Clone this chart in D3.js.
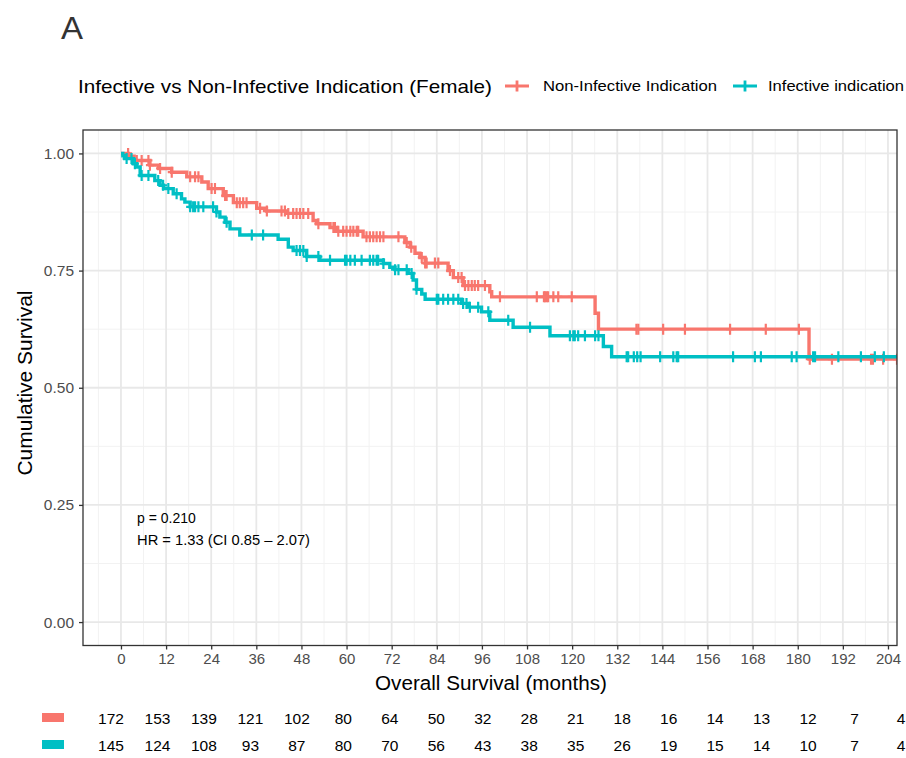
<!DOCTYPE html>
<html>
<head>
<meta charset="utf-8">
<script src="https://cdn.jsdelivr.net/npm/d3@7"></script>
<style>
body{margin:0;background:#fff}
svg{display:block;font-family:"Liberation Sans",Arial,sans-serif}
</style>
</head>
<body>
<svg id="chart" width="906" height="758"></svg>
<script>
// group names + colours (ggplot defaults)
var groupNames=["Non-Infective Indication","Infective indication"];
var groupColors=["#F8766D","#00BFC4"];

// KM steps [month, survival]
var nonInfSteps=[[0,1],[2,0.994],[3.5,0.985],[7.7,0.975],[10,0.968],[13.5,0.96],[17.5,0.95],[21.5,0.939],[23.2,0.925],[27.2,0.91],[29.9,0.895],[36.1,0.883],[38.7,0.877],[44,0.872],[51.1,0.857],[52,0.85],[55.6,0.842],[57.4,0.834],[64.4,0.822],[75.5,0.81],[76.9,0.80],[78.2,0.787],[79.5,0.778],[80.9,0.766],[87,0.75],[88.4,0.735],[91,0.718],[98.1,0.705],[98.6,0.694],[126.1,0.659],[127,0.625],[183,0.561],[206.5,0.561]];
var infSteps=[[0,1],[0.5,0.995],[1,0.989],[3.3,0.978],[4.2,0.971],[5.1,0.953],[9,0.942],[10.4,0.932],[11.3,0.925],[13.9,0.914],[16.1,0.903],[17,0.896],[18.4,0.886],[25.4,0.875],[26.3,0.864],[27.7,0.853],[29,0.839],[31.6,0.826],[41.8,0.817],[44.5,0.80],[45.8,0.793],[49.4,0.78],[52.9,0.772],[69.8,0.765],[71.5,0.757],[72.9,0.752],[76.4,0.744],[77.7,0.73],[78.6,0.71],[80,0.70],[80.9,0.689],[90.6,0.68],[92.4,0.672],[95.9,0.662],[98.1,0.644],[104.3,0.629],[114.1,0.611],[128.3,0.588],[130.5,0.566],[206.5,0.566]];

// censoring times (months)
var nonInfCensor=[1.9,4.2,5.5,7.3,7.7,10.4,13.5,18.4,19.7,20.6,24.1,25,27.7,28.1,30.8,31.6,32.5,33.4,37,38.8,42.7,43.6,44.5,45.8,46.7,47.6,48.5,49.8,52.5,56.5,56.9,57.8,59.1,60,61,61.8,62.7,63.1,65.3,66.2,67.1,68,68.9,69.8,73.8,76,77.2,80,80.9,81.3,83.5,84.4,87.5,89.7,90.6,91.5,92.4,93.3,94.1,95,96.8,100.8,110.6,112.5,112.8,113.2,113.6,115,116.3,119.9,137.1,137.6,144.2,150,162,171.5,180.3,183.2,189.1,199.5,200,202.7,206.4];
var infCensor=[1.5,2.8,3.7,5.5,7.3,9.9,11.2,12.6,14.8,18.4,19.2,19.7,20.6,21.9,24.5,25.4,28.1,34.8,37.8,46.7,47.6,48.5,49.4,52.5,55.6,59.6,60,61,62.2,64,66.2,67.1,68,68.4,69.8,72.9,73.8,76,77.3,78.6,84,84.4,85.7,87,88.4,89.7,91,91.9,92.8,95,97.7,103,108.8,119.4,120.3,120.7,121.6,123.4,126.1,127,134.5,134.9,136.4,137.3,138.2,143.4,146.9,147.8,148.2,162.8,168.6,170.2,178.4,179.7,184.1,184.6,190.8,196.8,200.5,202.9];

// axis breaks
var timeBreaks=[0,12,24,36,48,60,72,84,96,108,120,132,144,156,168,180,192,204];
var timeMinor=[-6,6,18,30,42,54,66,78,90,102,114,126,138,150,162,174,186,198];
var survBreaks=[0,0.25,0.5,0.75,1];
var survMinor=[0.125,0.375,0.625,0.875];

// numbers at risk
var nonInfRisk=[172,153,139,121,102,80,64,50,32,28,21,18,16,14,13,12,7,4];
var infRisk=[145,124,108,93,87,80,70,56,43,38,35,26,19,15,14,10,7,4];

var svg=d3.select("#chart");
var panel={left:83,right:897,top:130,bottom:645.5};

var x=d3.scaleLinear().domain([-10.1,206.4]).range([panel.left,panel.right]);
var y=d3.scaleLinear().domain([-0.05,1.05]).range([panel.bottom,panel.top]);
var xRisk=d3.scaleLinear().domain([0,204]).range([111,901]);

svg.append("defs").append("clipPath").attr("id","clipPanel")
	.append("rect").attr("x",panel.left).attr("y",panel.top)
	.attr("width",panel.right-panel.left).attr("height",panel.bottom-panel.top);

// grid
var grid=svg.append("g");
grid.selectAll(".minorX").data(timeMinor).enter().append("line")
	.attr("x1",function(d){return x(d);}).attr("x2",function(d){return x(d);})
	.attr("y1",panel.top).attr("y2",panel.bottom)
	.attr("stroke","#f2f2f2").attr("stroke-width",1);
grid.selectAll(".minorY").data(survMinor).enter().append("line")
	.attr("y1",function(d){return y(d);}).attr("y2",function(d){return y(d);})
	.attr("x1",panel.left).attr("x2",panel.right)
	.attr("stroke","#f2f2f2").attr("stroke-width",1);
grid.selectAll(".majorX").data(timeBreaks).enter().append("line")
	.attr("x1",function(d){return x(d);}).attr("x2",function(d){return x(d);})
	.attr("y1",panel.top).attr("y2",panel.bottom)
	.attr("stroke","#e8e8e8").attr("stroke-width",1.8);
grid.selectAll(".majorY").data(survBreaks).enter().append("line")
	.attr("y1",function(d){return y(d);}).attr("y2",function(d){return y(d);})
	.attr("x1",panel.left).attr("x2",panel.right)
	.attr("stroke","#e8e8e8").attr("stroke-width",1.8);

// curves
var curves=svg.append("g").attr("clip-path","url(#clipPanel)");
var stepLine=d3.line().x(function(d){return x(d[0]);}).y(function(d){return y(d[1]);}).curve(d3.curveStepAfter);

function survAt(steps,t){
	var s=steps[0][1];
	for(var i=0;i<steps.length;i++){ if(steps[i][0]<=t) s=steps[i][1]; }
	return s;
}
function drawGroup(steps,censor,color){
	curves.append("path").datum(steps)
		.attr("d",stepLine).attr("fill","none")
		.attr("stroke",color).attr("stroke-width",3.4);
	curves.selectAll(null).data(censor).enter().append("path")
		.attr("d",function(t){
			var cx=x(t),cy=y(survAt(steps,t));
			return "M"+cx+","+(cy-5.5)+"V"+(cy+5.5)+"M"+(cx-4)+","+cy+"H"+(cx+4);
		})
		.attr("stroke",color).attr("stroke-width",2.2);
}
drawGroup(nonInfSteps,nonInfCensor,groupColors[0]);
drawGroup(infSteps,infCensor,groupColors[1]);

// panel border
svg.append("rect").attr("x",panel.left).attr("y",panel.top)
	.attr("width",panel.right-panel.left).attr("height",panel.bottom-panel.top)
	.attr("fill","none").attr("stroke","#333").attr("stroke-width",1.3);

// axes
var xAxis=d3.axisBottom(x).tickValues(timeBreaks).tickSize(4).tickPadding(4);
var gx=svg.append("g").attr("transform","translate(0,"+panel.bottom+")").call(xAxis);
gx.select(".domain").remove();
gx.selectAll("line").attr("stroke","#333").attr("stroke-width",1.3);
gx.selectAll("text").attr("font-size",15).attr("fill","#4d4d4d");

var yAxis=d3.axisLeft(y).tickValues(survBreaks).tickFormat(d3.format(".2f")).tickSize(4).tickPadding(5);
var gy=svg.append("g").attr("transform","translate("+panel.left+",0)").call(yAxis);
gy.select(".domain").remove();
gy.selectAll("line").attr("stroke","#333").attr("stroke-width",1.3);
gy.selectAll("text").attr("font-size",15.5).attr("fill","#4d4d4d");

// axis titles
svg.append("text").attr("x",491).attr("y",690).attr("text-anchor","middle")
	.attr("font-size",20).attr("fill","#000")
	.attr("textLength",232).attr("lengthAdjust","spacingAndGlyphs")
	.text("Overall Survival (months)");
svg.append("text").attr("transform","translate(32,383) rotate(-90)").attr("text-anchor","middle")
	.attr("font-size",20).attr("fill","#000")
	.attr("textLength",185).attr("lengthAdjust","spacingAndGlyphs")
	.text("Cumulative Survival");

// annotation
svg.append("text").attr("x",137).attr("y",523).attr("font-size",14).attr("fill","#000").text("p = 0.210");
svg.append("text").attr("x",137).attr("y",545).attr("font-size",14).attr("fill","#000")
	.attr("textLength",173).attr("lengthAdjust","spacingAndGlyphs")
	.text("HR = 1.33 (CI 0.85 \u2013 2.07)");

// panel letter
svg.append("text").attr("x",61).attr("y",39).attr("font-size",32).attr("fill","#333")
	.attr("textLength",22).attr("lengthAdjust","spacingAndGlyphs").text("A");

// legend
var leg=svg.append("g");
leg.append("text").attr("x",78).attr("y",92.5).attr("font-size",19).attr("fill","#000")
	.attr("textLength",414).attr("lengthAdjust","spacingAndGlyphs")
	.text("Infective vs Non-Infective Indication (Female)");
var legKeys=[{cx:517,tx:543,w:174},{cx:745,tx:768,w:136}];
legKeys.forEach(function(k,i){
	leg.append("path").attr("d","M"+(k.cx-12)+",86H"+(k.cx+12)+"M"+k.cx+",80.5V91.5")
		.attr("stroke",groupColors[i]).attr("stroke-width",2.8);
	leg.append("text").attr("x",k.tx).attr("y",91).attr("font-size",15).attr("fill","#000")
		.attr("textLength",k.w).attr("lengthAdjust","spacingAndGlyphs").text(groupNames[i]);
});

// risk table
var riskRows=[nonInfRisk,infRisk];
var rowY=[718,745];
riskRows.forEach(function(row,i){
	svg.append("rect").attr("x",42).attr("y",rowY[i]-5).attr("width",22).attr("height",9).attr("fill",groupColors[i]);
	svg.selectAll(null).data(row).enter().append("text")
		.attr("x",function(d,j){return xRisk(timeBreaks[j]);})
		.attr("y",rowY[i]+6).attr("text-anchor","middle")
		.attr("font-size",15.5).attr("fill","#000").text(function(d){return d;});
});
</script>
</body>
</html>
